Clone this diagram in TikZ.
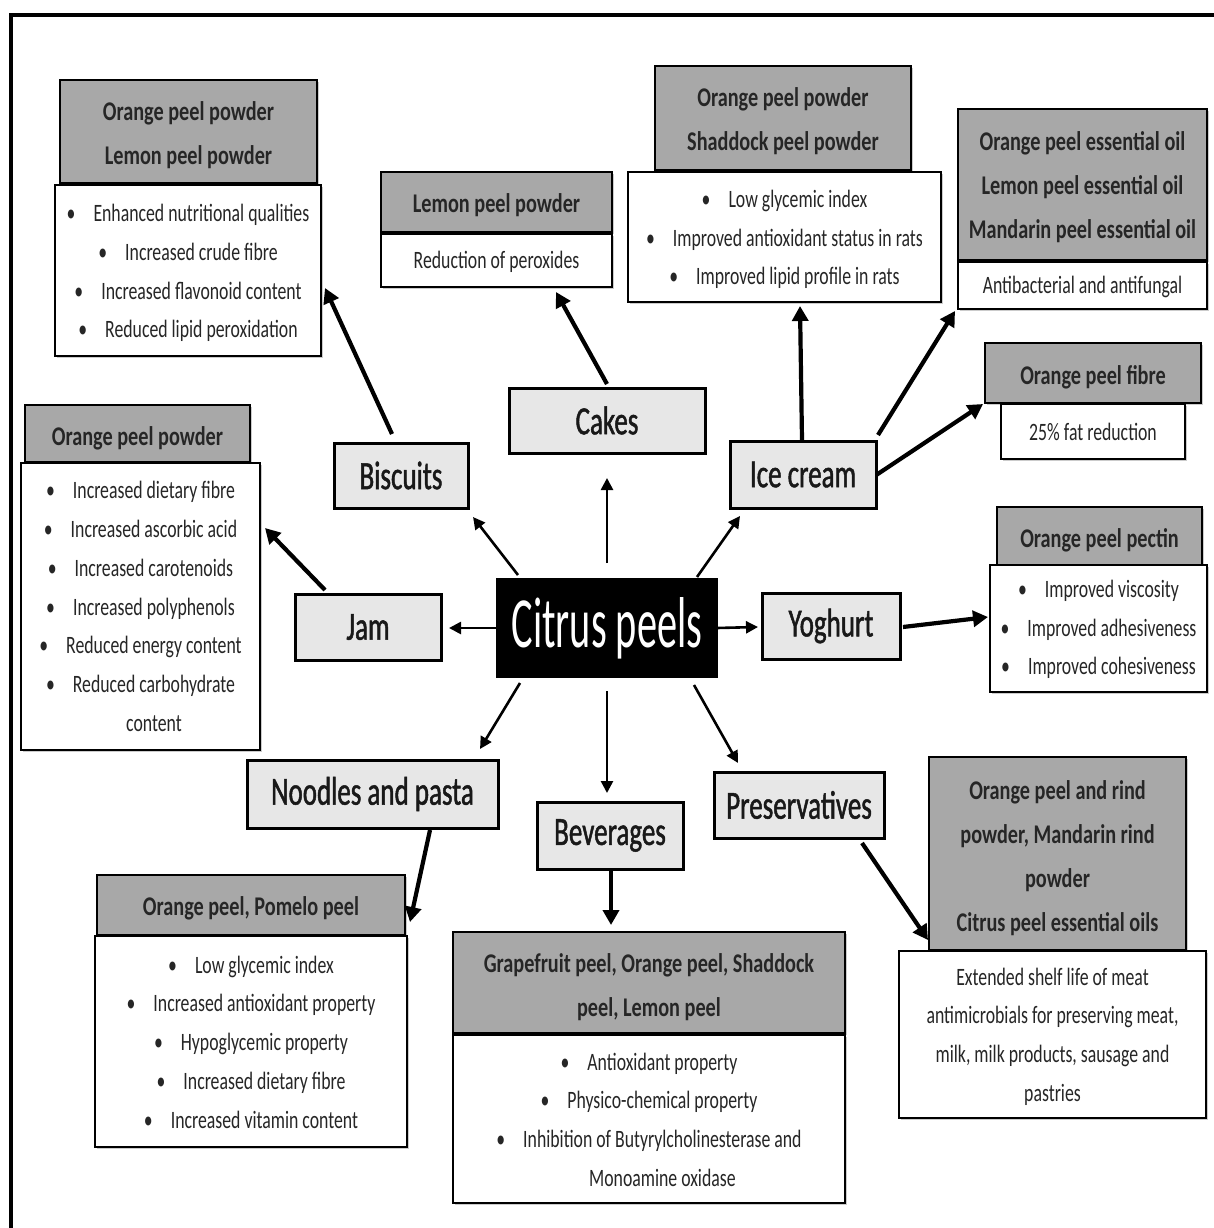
\documentclass[tikz,border=0pt]{standalone}
\usepackage{fontspec}
\setmainfont{Carlito}
\newfontfamily\bodyfam{Carlito}[FakeStretch=0.71]
\newfontfamily\hdrfam{Carlito}[FakeStretch=0.75]
\newfontfamily\catfam{Carlito}[FakeStretch=0.675,FakeBold=1.2]
\newfontfamily\cpfam{Carlito}[FakeStretch=0.56]
\usetikzlibrary{arrows.meta,shadows}
\definecolor{hgrey}{RGB}{168,168,168}
\definecolor{cgrey}{RGB}{231,231,231}
\newcommand\bul{\textbullet\hspace{18pt}}
\newcommand\bulind{\phantom{\textbullet\hspace{18pt}}}
% #1 name, #2 frame style, #3 text style, #4-#7 corners, #8 text shift (down), #9 text
\newcommand\bx[9]{%
  \node[#2,minimum width={#6-#4},minimum height={#7-#5}] (#1) at ({(#4+#6)/2},{(#5+#7)/2}) {};
  \node[#3] (#1-t) at ([yshift=-#8pt]#1.center) {#9};}
\tikzset{
  frame/.style={draw=black,line width=2.2pt,inner sep=0pt,outer sep=0pt,
    drop shadow={shadow xshift=1.5pt,shadow yshift=-2pt,fill=black!40}},
  hdr/.style={frame,fill=hgrey},
  bdy/.style={frame,fill=white},
  cat/.style={frame,line width=3pt,fill=cgrey},
  core/.style={draw=black,line width=2pt,fill=black,inner sep=0pt,outer sep=0pt},
  txt/.style={inner sep=0pt,align=center},
  hdrtxt/.style={txt,text=black!85,font=\hdrfam\bfseries\fontsize{27}{44}\selectfont},
  bdytxt/.style={txt,text=black!85,font=\bodyfam\fontsize{25}{38.7}\selectfont},
  cattxt/.style={txt,text=black!90,font=\catfam\fontsize{40}{44}\selectfont},
  coretxt/.style={txt,text=white,font=\cpfam\fontsize{72}{76}\selectfont},
  thinarr/.style={line width=2.6pt,-{Triangle[length=12pt,width=12pt]}},
  thickarr/.style={line width=4.2pt,-{Triangle[length=15pt,width=16pt]}},
}
\begin{document}
\begin{tikzpicture}[x=1pt,y=-1pt]
\useasboundingbox (0,0) rectangle (1214,1228);
\fill[white] (0,0) rectangle (1214,1228);
\draw[line width=3.5pt] (11,1230) -- (11,15) -- (1216,15);

% detail boxes
\bx{h1}{hdr}{hdrtxt}{60}{80}{317}{183}{4}{Orange peel powder\\Lemon peel powder}
\bx{b1}{bdy}{bdytxt}{55}{185}{321}{356}{2.5}{\bul Enhanced nutritional qualities\\\bul Increased crude fibre\\\bul Increased flavonoid content\\\bul Reduced lipid peroxidation}
\bx{h2}{hdr}{hdrtxt}{381}{172}{612}{232}{3.5}{Lemon peel powder}
\bx{b2}{bdy}{bdytxt}{381}{234}{612}{287}{1.5}{Reduction of peroxides}
\bx{h3}{hdr}{hdrtxt}{655}{66}{911}{170}{3.5}{Orange peel powder\\Shaddock peel powder}
\bx{b3}{bdy}{bdytxt}{628}{172}{941}{302}{2.5}{\bul Low glycemic index\\\bul Improved antioxidant status in rats\\\bul Improved lipid profile in rats}
\bx{h4}{hdr}{hdrtxt}{958}{109}{1207}{260}{2.5}{Orange peel essential oil\\Lemon peel essential oil\\Mandarin peel essential oil}
\bx{b4}{bdy}{bdytxt}{958}{262}{1207}{309}{1}{Antibacterial and antifungal}
\bx{h5}{hdr}{hdrtxt}{985}{343}{1201}{403}{4}{Orange peel fibre}
\bx{b5}{bdy}{bdytxt}{1001}{404}{1185}{459}{0.5}{25\% fat reduction}
\bx{h6}{hdr}{hdrtxt}{997}{507}{1202}{565}{4.5}{Orange peel pectin}
\bx{b6}{bdy}{bdytxt}{990}{565}{1207}{692}{1}{\bul Improved viscosity\\\bul Improved adhesiveness\\\bul Improved cohesiveness}
\bx{h7}{hdr}{hdrtxt}{929}{757}{1186}{950}{4.5}{Orange peel and rind\\powder, Mandarin rind\\powder\\Citrus peel essential oils}
\bx{b7}{bdy}{bdytxt}{899}{951}{1206}{1118}{2}{Extended shelf life of meat\\antimicrobials for preserving meat,\\milk, milk products, sausage and\\pastries}
\bx{h8}{hdr}{hdrtxt}{453}{932}{845}{1033}{4.5}{Grapefruit peel, Orange peel, Shaddock\\peel, Lemon peel}
\bx{b8}{bdy}{bdytxt}{453}{1035}{845}{1203}{0.5}{\bul Antioxidant property\\\bul Physico-chemical property\\\bul Inhibition of Butyrylcholinesterase and\\\bulind Monoamine oxidase}
\bx{h9}{hdr}{hdrtxt}{97}{875}{405}{935}{3.5}{Orange peel, Pomelo peel}
\bx{b9}{bdy}{bdytxt}{95}{936}{407}{1147}{0.5}{\bul Low glycemic index\\\bul Increased antioxidant property\\\bul Hypoglycemic property\\\bul Increased dietary fibre\\\bul Increased vitamin content}
\bx{h10}{hdr}{hdrtxt}{25}{405}{250}{462}{4.5}{Orange peel powder}
\bx{b10}{bdy}{bdytxt}{21}{463}{260}{750}{0}{\bul Increased dietary fibre\\\bul Increased ascorbic acid\\\bul Increased carotenoids\\\bul Increased polyphenols\\\bul Reduced energy content\\\bul Reduced carbohydrate\\\bulind content}

% category boxes
\bx{cp}{core}{coretxt}{497}{579}{717}{677}{0}{Citrus peels}
\bx{jam}{cat}{cattxt}{295}{594}{441}{660}{0}{Jam}
\bx{yog}{cat}{cattxt}{762}{593}{900}{659}{0}{Yoghurt}
\bx{bisc}{cat}{cattxt}{334}{443}{468}{508}{0}{Biscuits}
\bx{cakes}{cat}{cattxt}{509}{388}{705}{453}{0}{Cakes}
\bx{ice}{cat}{cattxt}{730}{441}{876}{508}{0}{Ice cream}
\bx{nood}{cat}{cattxt}{247}{760}{498}{828}{0}{Noodles and pasta}
\bx{bev}{cat}{cattxt}{537}{802}{683}{869}{0}{Beverages}
\bx{pres}{cat}{cattxt}{714}{772}{884}{838}{0}{Preservatives}

% connectors from the core
\draw[thinarr] ([yshift=16pt]cp.north) -- ([yshift=-25pt]cakes.south);
\draw[thinarr] ([xshift=21pt,yshift=4pt]cp.north west) -- ([xshift=5pt,yshift=-9pt]bisc.south east);
\draw[thinarr] ([xshift=-20pt,yshift=2pt]cp.north east) -- ([xshift=10pt,yshift=-8pt]ice.south west);
\draw[thinarr] (cp.west) -- ([xshift=8pt,yshift=-1pt]jam.east);
\draw[thinarr] (cp.east) -- ([xshift=-4pt,yshift=-1pt]yog.west);
\draw[thinarr] ([xshift=23pt,yshift=-6pt]cp.south west) -- ([xshift=-18pt,yshift=11pt]nood.north east);
\draw[thinarr] ([yshift=-14pt]cp.south) -- ([xshift=-3pt,yshift=9pt]bev.north);
\draw[thinarr] ([xshift=-23pt,yshift=-8pt]cp.south east) -- ([xshift=24pt,yshift=9pt]pres.north west);

% connectors to detail boxes
\draw[thickarr] ([xshift=-9pt,yshift=9pt]bisc.north) -- ([xshift=4pt,yshift=68pt]b1.south east);
\draw[thickarr] ([yshift=4pt]cakes.north) -- ([xshift=59.5pt,yshift=-5pt]b2.south);
\draw[thickarr] ([xshift=-1pt,yshift=1pt]ice.north) -- ([xshift=15.5pt,yshift=-4pt]b3.south);
\draw[thickarr] ([xshift=2pt,yshift=6pt]ice.north east) -- ([xshift=-3pt,yshift=-2pt]b4.south west);
\draw[thickarr] ([xshift=1pt]ice.east) -- ([xshift=-2pt,yshift=-1pt]h5.south west);
\draw[thickarr] ([xshift=-43pt,yshift=4pt]jam.north) -- ([xshift=5pt,yshift=-65pt]b10.north east);
\draw[thickarr] ([xshift=3pt,yshift=-1pt]yog.east) -- ([xshift=-2pt,yshift=11.5pt]b6.west);
\draw[thickarr] ([xshift=57.5pt,yshift=-2pt]nood.south) -- ([xshift=5pt,yshift=13pt]h9.south east);
\draw[thickarr] ([xshift=1pt,yshift=-1pt]bev.south) -- ([xshift=-38pt,yshift=7pt]h8.north);
\draw[thickarr] ([xshift=63pt,yshift=-5pt]pres.south) -- ([xshift=-1pt,yshift=10pt]h7.south west);
\end{tikzpicture}
\end{document}
